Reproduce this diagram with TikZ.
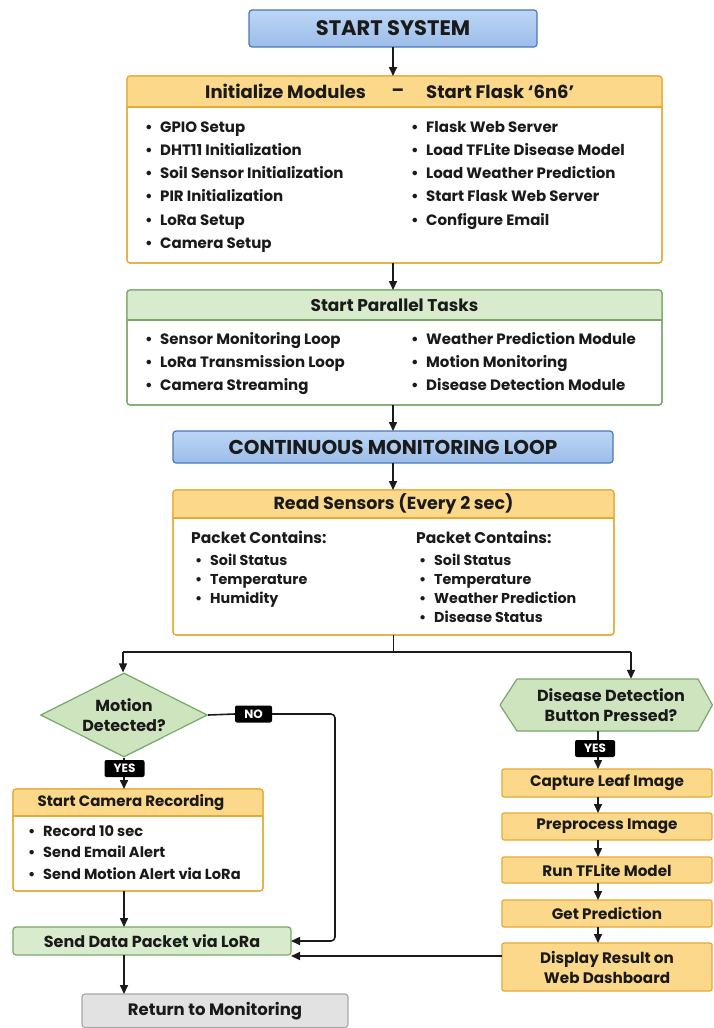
\documentclass[tikz,border=0pt]{standalone}
\usepackage{fontspec}
\setmainfont{Poppins}
\usetikzlibrary{arrows.meta,calc,shapes.geometric}
\definecolor{bluetop}{HTML}{BCD6F5}
\definecolor{bluebot}{HTML}{9CBDE9}
\definecolor{blueline}{HTML}{4A78B8}
\definecolor{orfill}{HTML}{FCD88A}
\definecolor{orline}{HTML}{E6A935}
\definecolor{grfill}{HTML}{D8EBCC}
\definecolor{grline}{HTML}{78A868}
\definecolor{dgfill}{HTML}{CDE4BE}
\definecolor{gyfill}{HTML}{E2E2E2}
\definecolor{gyline}{HTML}{A8A8A8}
\definecolor{ink}{HTML}{1A1A1A}
\newcommand{\bl}{\makebox[15pt][l]{•}}
\newcommand{\headedbox}[8]{%
  \node[panel, draw=#8, minimum width=#4pt, minimum height=#5pt] (#1) at (#2,#3) {};
  \begin{scope}
    \clip[rounded corners=3pt] (#1.north west) rectangle (#1.south east);
    \fill[#7] (#1.north west) rectangle ($(#1.north east)+(0,#6)$);
  \end{scope}
  \draw[#8, line width=1.2pt] ($(#1.north west)+(0,#6)$) -- ($(#1.north east)+(0,#6)$);
  \draw[#8, line width=1.2pt, rounded corners=3pt] (#1.north west) rectangle (#1.south east);
}
\begin{document}
\begin{tikzpicture}[x=1pt,y=-1pt,line join=round,
  ln/.style={line width=1.6pt, draw=ink},
  arr/.style={ln, -{Triangle[length=9pt,width=8pt]}},
  panel/.style={draw, fill=white, line width=1.2pt, rounded corners=3pt, inner sep=0, outer sep=0, anchor=north west},
  bluebox/.style={draw=blueline, top color=bluetop, bottom color=bluebot, line width=1.2pt, rounded corners=3pt, inner sep=0, outer sep=0, anchor=north west, text=ink, font=\fontsize{20}{23}\selectfont\bfseries},
  stepbox/.style={draw=orline, fill=orfill, line width=1.2pt, rounded corners=2pt, inner sep=0, outer sep=0, anchor=north west, text=ink, align=center, font=\fontsize{15.2}{20}\selectfont\bfseries, minimum width=210pt},
  greenbox/.style={draw=grline, fill=grfill, line width=1.2pt, rounded corners=3pt, inner sep=0, outer sep=0, anchor=north west, text=ink, font=\fontsize{16}{19}\selectfont\bfseries},
  graybox/.style={draw=gyline, fill=gyfill, line width=1.2pt, rounded corners=3pt, inner sep=0, outer sep=0, anchor=north west, text=ink, font=\fontsize{16.5}{19}\selectfont\bfseries},
  head/.style={inner sep=0, text=ink, font=\fontsize{18}{21}\selectfont\bfseries},
  item/.style={anchor=west, inner sep=0, text=ink, text height=11pt, text depth=3pt, font=\fontsize{15}{18}\selectfont\bfseries},
  item2/.style={item, font=\fontsize{14.3}{17}\selectfont\bfseries},
  tag/.style={fill=black, text=white, rounded corners=2pt, inner sep=0, minimum height=17pt, font=\fontsize{12}{14}\selectfont\bfseries}
]
\useasboundingbox (0,0) rectangle (713,1028);

% ---- start
\node[bluebox, minimum width=288pt, minimum height=37pt, font=\fontsize{21}{24}\selectfont\bfseries] (start) at (249,10) {START SYSTEM};

% ---- initialize
\headedbox{init}{127}{76}{535}{187}{31}{orfill}{orline}
\node[head, anchor=west] (ih1) at (205,91.5) {Initialize Modules};
\node[head] (ih2) at (398,92.5) {–};
\node[head, anchor=west] (ih3) at (426,91.5) {Start Flask ‘6n6’};
\foreach \t [count=\i] in {GPIO Setup, DHT11 Initialization, Soil Sensor Initialization, PIR Initialization, LoRa Setup, Camera Setup}
  \node[item] (iL\i) at (145,{128+23.3*(\i-1)}) {\bl\t};
\foreach \t [count=\i] in {Flask Web Server, Load TFLite Disease Model, Load Weather Prediction, Start Flask Web Server, Configure Email}
  \node[item] (iR\i) at (411,{128+23.3*(\i-1)}) {\bl\t};

% ---- parallel
\headedbox{par}{127}{290}{535}{115}{30}{grfill}{grline}
\node[head, font=\fontsize{17}{20}\selectfont\bfseries] (ph) at (394.5,305) {Start Parallel Tasks};
\foreach \t [count=\i] in {Sensor Monitoring Loop, LoRa Transmission Loop, Camera Streaming}
  \node[item] (pL\i) at (145,{340+23.3*(\i-1)}) {\bl\t};
\foreach \t [count=\i] in {Weather Prediction Module, Motion Monitoring, Disease Detection Module}
  \node[item] (pR\i) at (411,{340+23.3*(\i-1)}) {\bl\t};

% ---- loop
\node[bluebox, minimum width=440pt, minimum height=32pt] (loop) at (173,431) {CONTINUOUS MONITORING LOOP};

% ---- read sensors
\headedbox{read}{173}{490}{441}{145}{28}{orfill}{orline}
\node[head, font=\fontsize{17.5}{20}\selectfont\bfseries] (rh) at (393.5,504) {Read Sensors (Every 2 sec)};
\node[item2, font=\fontsize{15.5}{18}\selectfont\bfseries] (rLh) at (191,539) {Packet Contains:};
\foreach \t [count=\i] in {Soil Status, Temperature, Humidity}
  \node[item2] (rL\i) at (195,{561+19*(\i-1)}) {\bl\t};
\node[item2, font=\fontsize{15.5}{18}\selectfont\bfseries] (rRh) at (416,539) {Packet Contains:};
\foreach \t [count=\i] in {Soil Status, Temperature, Weather Prediction, Disease Status}
  \node[item2] (rR\i) at (419,{561+19*(\i-1)}) {\bl\t};

% ---- motion decision
\node[diamond, draw=grline, fill=dgfill, line width=1.2pt, aspect=2, minimum width=167pt, minimum height=84pt, inner sep=0, align=center, text=ink, font=\fontsize{16}{20}\selectfont\bfseries] (motion) at (124,715) {Motion\\Detected?};

% ---- camera
\headedbox{cam}{13}{789}{250}{102}{27}{orfill}{orline}
\node[head, font=\fontsize{15}{18}\selectfont\bfseries] (ch) at (131,802.5) {Start Camera Recording};
\foreach \t [count=\i] in {Record 10 sec, Send Email Alert, Send Motion Alert via LoRa}
  \node[item, font=\fontsize{14.6}{17}\selectfont\bfseries] (cL\i) at (28,{832+21.5*(\i-1)}) {\bl\t};

% ---- send / return
\node[greenbox, minimum width=278pt, minimum height=28pt] (send) at (13,927) {Send Data Packet via LoRa};
\node[graybox, minimum width=266pt, minimum height=33.5pt] (ret) at (82,994) {Return to Monitoring};

% ---- disease decision (hexagon)
\fill[dgfill] (500,705) -- (517,679) -- (698,679) -- (712.4,705) -- (698,731) -- (517,731) -- cycle;
\draw[grline, line width=1.2pt] (500,705) -- (517,679) -- (698,679) -- (712.4,705) -- (698,731) -- (517,731) -- cycle;
\node[inner sep=0, minimum width=212pt, minimum height=52pt, align=center, text=ink, font=\fontsize{16}{20}\selectfont\bfseries] (dis) at (606,705) {\hspace*{10pt}Disease Detection\\\hspace*{10pt}Button Pressed?};

% ---- right chain
\node[stepbox, minimum height=28pt] (cap) at (502,769) {Capture Leaf Image};
\node[stepbox, minimum height=27pt] (pre) at (502,813) {Preprocess Image};
\node[stepbox, minimum height=26pt] (run) at (502,857) {Run TFLite Model};
\node[stepbox, minimum height=27pt] (pred) at (502,900) {Get Prediction};
\node[stepbox, minimum height=48pt] (disp) at (502,943) {Display Result on\\Web Dashboard};

% ---- connectors
\draw[arr] (start.south) -- (start.south |- init.north);
\draw[arr] (start.south |- init.south) -- (start.south |- par.north);
\draw[arr] (start.south |- par.south) -- (start.south |- loop.north);
\draw[arr] (start.south |- loop.south) -- (start.south |- read.north);

\coordinate (spL) at (123,652);
\coordinate (spR) at (631,652);
\draw[ln] (read.south) -- (read.south |- spL);
\draw[ln] (spL) -- (spR);
\draw[arr] (spL) -- (spL |- motion.north);
\draw[arr] (spR) -- (spR |- dis.north);

% NO branch
\node[tag, minimum width=37pt] (no) at (253.5,714) {NO};
\draw[ln] (motion.east) -- (no.west);
\coordinate (nocorner) at (335,714);
\draw[arr, rounded corners=4pt] (no.east) -- (nocorner) |- (send.east);

% YES branch (left)
\draw[arr] (motion.south) -- (motion.south |- cam.north);
\node[tag, minimum width=40pt] (yesL) at (124.5,768.5) {YES};

\draw[arr] (motion.south |- cam.south) -- (motion.south |- send.north);
\draw[arr] (motion.south |- send.south) -- (motion.south |- ret.north);

% YES branch (right)
\coordinate (rc) at (598,0);
\draw[arr] (rc |- dis.south) -- (rc |- cap.north);
\node[tag, minimum width=40pt] (yesR) at (595,748.5) {YES};
\draw[arr] (rc |- cap.south) -- (rc |- pre.north);
\draw[arr] (rc |- pre.south) -- (rc |- run.north);
\draw[arr] (rc |- run.south) -- (rc |- pred.north);
\draw[arr] (rc |- pred.south) -- (rc |- disp.north);

\coordinate (dj) at ($(disp.west)+(0,-11)$);
\draw[arr] (dj) -- (dj -| send.east);
\end{tikzpicture}
\end{document}
